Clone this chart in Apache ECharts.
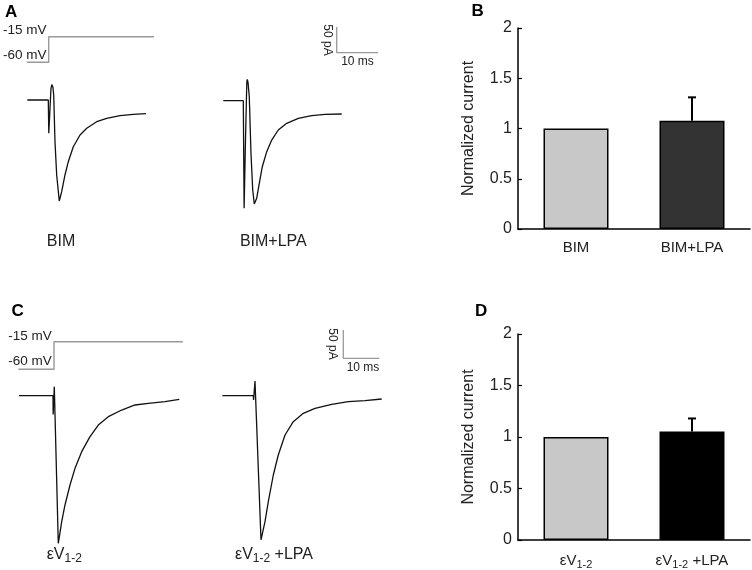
<!DOCTYPE html>
<html><head><meta charset="utf-8">
<script src="https://cdn.jsdelivr.net/npm/echarts@6/dist/echarts.min.js"></script>
<style>html,body{margin:0;padding:0;background:#fff}#c{width:752px;height:570px}</style>
</head><body><div id="c"></div>
<script>
// ---------- DATA ----------
const yTicks = [0, 0.5, 1, 1.5, 2];
const barCategoriesB = ['BIM', 'BIM+LPA'];
const barValuesB = [1.0, 1.077];
const barErrorsB = [0, 0.233];
const barCategoriesD = ['εV1-2', 'εV1-2 +LPA'];
const barValuesD = [1.0, 1.054];
const barErrorsD = [0, 0.126];

// current traces: time (ms, from step onset), current (pA)
const traceA1_t = [-5.08, 0, 0.12, 0.65, 0.85, 0.97, 1.12, 1.31, 1.62, 2.03, 2.66, 3.24, 4.04, 4.84, 6.05, 7.68, 9.30, 11.72, 14.14, 17.36, 20.58, 23.65];
const traceA1_i = [0, 0, -64.8, 22.8, 30, 30.5, 25, 9.7, -81.1, -145.9, -196.5, -178.4, -145.9, -120, -90.9, -68.1, -55.1, -42.2, -35.6, -30.5, -27.8, -26.7];
const traceA2_t = [-4.84, 0, 0.2, 0.53, 0.85, 0.97, 1.15, 1.45, 1.86, 2.28, 2.66, 3.24, 3.87, 4.60, 5.67, 6.88, 8.47, 10.51, 13.32, 16.56, 19.78, 23.83];
const traceA2_i = [0, 0, -209.3, -76.5, 36, 41.6, 35, 7.8, -102.3, -173.7, -201, -189.9, -160.7, -128.4, -99.2, -76.5, -57, -44, -34.2, -29.2, -26.5, -25.9];
const traceC1_t = [-9.44, 0, 0.05, 0.36, 1.47, 2.42, 3.33, 4.72, 6.11, 7.97, 10.28, 12.58, 15.36, 19.08, 22.78, 26.47, 31.11, 35.08];
const traceC1_i = [0, 0, -33, 16, -260.8, -222.6, -193.1, -157.8, -128.3, -98.9, -72.4, -51.8, -37.1, -25.3, -16.4, -13.4, -10.6, -6.4];
const traceC2_t = [-8.61, 0, 0.08, 0.47, 2.14, 3.25, 4.17, 5.56, 6.94, 8.81, 11.11, 13.89, 17.14, 21.78, 26.39, 31.03, 35.67];
const traceC2_i = [0, 0, -7.6, 26, -254.6, -222.6, -187.3, -140.1, -104.8, -69.4, -45.9, -31.1, -22.3, -15.2, -10.6, -8.8, -5.8];

// voltage protocol (ms, mV)
const stepA_t = [-5.3, 0, 0, 25.5];
const stepA_v = [-60, -60, -15, -15];
const stepC_t = [-9.9, 0, 0, 35.8];
const stepC_v = [-60, -60, -15, -15];

// scale bars: 10 ms, 50 pA
const scaleBar_t = [0, 0, 10];
const scaleBar_i = [50, 0, 0];

// ---------- LAYOUT ----------
const FONT = 'Liberation Sans, Arial, Helvetica, sans-serif';
function mkGrid(px0, py0, x0, y0, sx, sy, xr, yr) {
  return {
    grid: { left: px0 + (xr[0] - x0) * sx, top: py0 - (yr[1] - y0) * sy,
            width: (xr[1] - xr[0]) * sx, height: (yr[1] - yr[0]) * sy },
    xr, yr
  };
}
const pairs = (a, b) => a.map((v, k) => [v, b[k]]);

const sAx = 4.13, sAy = 0.514, sAv = 0.569;
const sCx = 3.6, sCy = 0.566, sCv = 0.613;
const panels = [
  { g: mkGrid(48.3, 100, 0, 0, sAx, sAy, [-7, 27], [-230, 50]), d: pairs(traceA1_t, traceA1_i), c: '#111', w: 1.3 },
  { g: mkGrid(243.3, 100.7, 0, 0, sAx, sAy, [-7, 27], [-230, 50]), d: pairs(traceA2_t, traceA2_i), c: '#111', w: 1.3 },
  { g: mkGrid(48.7, 62.3, 0, -60, sAx, sAv, [-7, 27], [-70, -5]), d: pairs(stepA_t, stepA_v), c: '#999', w: 1.4 },
  { g: mkGrid(336.7, 52.7, 0, 0, sAx, sAy, [-2, 12], [-5, 55]), d: pairs(scaleBar_t, scaleBar_i), c: '#999', w: 1.3 },
  { g: mkGrid(53, 395.7, 0, 0, sCx, sCy, [-11, 37], [-280, 40]), d: pairs(traceC1_t, traceC1_i), c: '#111', w: 1.3 },
  { g: mkGrid(253.3, 395.7, 0, 0, sCx, sCy, [-11, 37], [-280, 40]), d: pairs(traceC2_t, traceC2_i), c: '#111', w: 1.3 },
  { g: mkGrid(54, 369.3, 0, -60, sCx, sCv, [-11, 37], [-70, -5]), d: pairs(stepC_t, stepC_v), c: '#999', w: 1.4 },
  { g: mkGrid(343.3, 358.3, 0, 0, sCx, sCy, [-2, 12], [-5, 55]), d: pairs(scaleBar_t, scaleBar_i), c: '#999', w: 1.3 }
];

const grids = [], xAxes = [], yAxes = [], series = [];
panels.forEach((p, k) => {
  grids.push(p.g.grid);
  xAxes.push({ type: 'value', gridIndex: k, min: p.g.xr[0], max: p.g.xr[1], show: false });
  yAxes.push({ type: 'value', gridIndex: k, min: p.g.yr[0], max: p.g.yr[1], show: false });
  series.push({ type: 'line', xAxisIndex: k, yAxisIndex: k, data: p.d, showSymbol: false, symbol: 'none',
    lineStyle: { color: p.c, width: p.w }, silent: true });
});

function subFmt(v) {
  const m = v.match(/^(εV)(1-2)(.*)$/);
  if (!m) return '{n|' + v + '}';
  return '{n|' + m[1] + '}{s|' + m[2] + '}' + (m[3] ? '{n|' + m[3] + '}' : '');
}
const richSub = {
  n: { fontSize: 15, color: '#222', fontFamily: FONT },
  s: { fontSize: 11, color: '#222', fontFamily: FONT, padding: [8, 0, 0, 0] }
};

function addBarPanel(gridRect, cats, vals, errs, colors) {
  const k = grids.length;
  grids.push(gridRect);
  xAxes.push({ type: 'category', gridIndex: k, data: cats,
    axisLine: { lineStyle: { color: '#000', width: 1.5 } }, axisTick: { show: false },
    axisLabel: { interval: 0, hideOverlap: false, fontSize: 15, color: '#222', fontFamily: FONT, margin: 11, formatter: subFmt, rich: richSub } });
  yAxes.push({ type: 'value', gridIndex: k, min: yTicks[0], max: yTicks[yTicks.length - 1], interval: yTicks[1] - yTicks[0],
    axisLine: { show: true, lineStyle: { color: '#000', width: 1.5 } },
    axisTick: { show: true, inside: true, length: 4, lineStyle: { color: '#000', width: 1.2 } },
    splitLine: { show: false },
    axisLabel: { fontSize: 16, color: '#222', fontFamily: FONT, margin: 6 },
    name: 'Normalized current', nameLocation: 'middle', nameGap: 41, nameRotate: 90,
    nameTextStyle: { fontSize: 16, color: '#222', fontFamily: FONT } });
  series.push({ type: 'bar', xAxisIndex: k, yAxisIndex: k, barWidth: 65,
    data: vals.map((v, i) => ({ value: v, itemStyle: { color: colors[i] } })),
    itemStyle: { borderColor: '#000', borderWidth: 1.5 }, silent: true });
  series.push({ type: 'custom', xAxisIndex: k, yAxisIndex: k, z: 5, silent: true,
    data: vals.map((v, i) => [i, v, errs[i]]),
    renderItem: function (params, api) {
      const i = api.value(0), v = api.value(1), e = api.value(2);
      if (!e) return null;
      const p0 = api.coord([i, v]), p1 = api.coord([i, v + e]);
      const st = { stroke: '#000', lineWidth: 2 };
      return { type: 'group', children: [
        { type: 'line', shape: { x1: p0[0], y1: p0[1], x2: p1[0], y2: p1[1] }, style: st },
        { type: 'line', shape: { x1: p1[0] - 4, y1: p1[1], x2: p1[0] + 4, y2: p1[1] }, style: st }
      ] };
    } });
}
addBarPanel({ left: 518, top: 28, width: 232, height: 201 }, barCategoriesB, barValuesB, barErrorsB, ['#c8c8c8', '#333333']);
addBarPanel({ left: 518, top: 334, width: 232, height: 207.7 }, barCategoriesD, barValuesD, barErrorsD, ['#c8c8c8', '#000000']);

function txt(text, x, y, size, opts) {
  opts = opts || {};
  return { type: 'text', x: x, y: y, rotation: opts.rot || 0, silent: true,
    style: { text: text, fontSize: size, fontFamily: FONT, fontWeight: opts.bold ? 'bold' : 'normal',
      fill: opts.color || '#222', align: opts.align || 'left', verticalAlign: 'middle', rich: opts.rich } };
}
const richLbl = {
  n: { fontSize: 16, color: '#222', fontFamily: FONT },
  s: { fontSize: 12, color: '#222', fontFamily: FONT, padding: [8, 0, 0, 0] }
};
const graphics = [
  txt('A', 5, 12.5, 17, { bold: true, color: '#000' }),
  txt('B', 471.5, 11, 17, { bold: true, color: '#000' }),
  txt('C', 11.5, 311.5, 17, { bold: true, color: '#000' }),
  txt('D', 475, 311, 17, { bold: true, color: '#000' }),
  txt('-15 mV', 3, 30, 13.5),
  txt('-60 mV', 3, 55.5, 13.5),
  txt('-15 mV', 8.3, 336, 13.5),
  txt('-60 mV', 8.3, 361.5, 13.5),
  txt('50 pA', 327.5, 40, 12, { rot: -Math.PI / 2, align: 'center' }),
  txt('10 ms', 357.5, 62, 12, { align: 'center' }),
  txt('50 pA', 332.5, 344, 12, { rot: -Math.PI / 2, align: 'center' }),
  txt('10 ms', 363, 367.5, 12, { align: 'center' }),
  txt('BIM', 61, 241.5, 16, { align: 'center' }),
  txt('BIM+LPA', 273.3, 241.5, 16, { align: 'center' }),
  txt(subFmt('εV1-2'), 46.7, 555, 16, { rich: richLbl }),
  txt(subFmt('εV1-2 +LPA'), 235, 555, 16, { rich: richLbl })
];

const chart = echarts.init(document.getElementById('c'), null, { renderer: 'canvas' });
chart.setOption({
  animation: false,
  backgroundColor: '#fff',
  grid: grids, xAxis: xAxes, yAxis: yAxes, series: series,
  graphic: graphics
});
</script></body></html>
